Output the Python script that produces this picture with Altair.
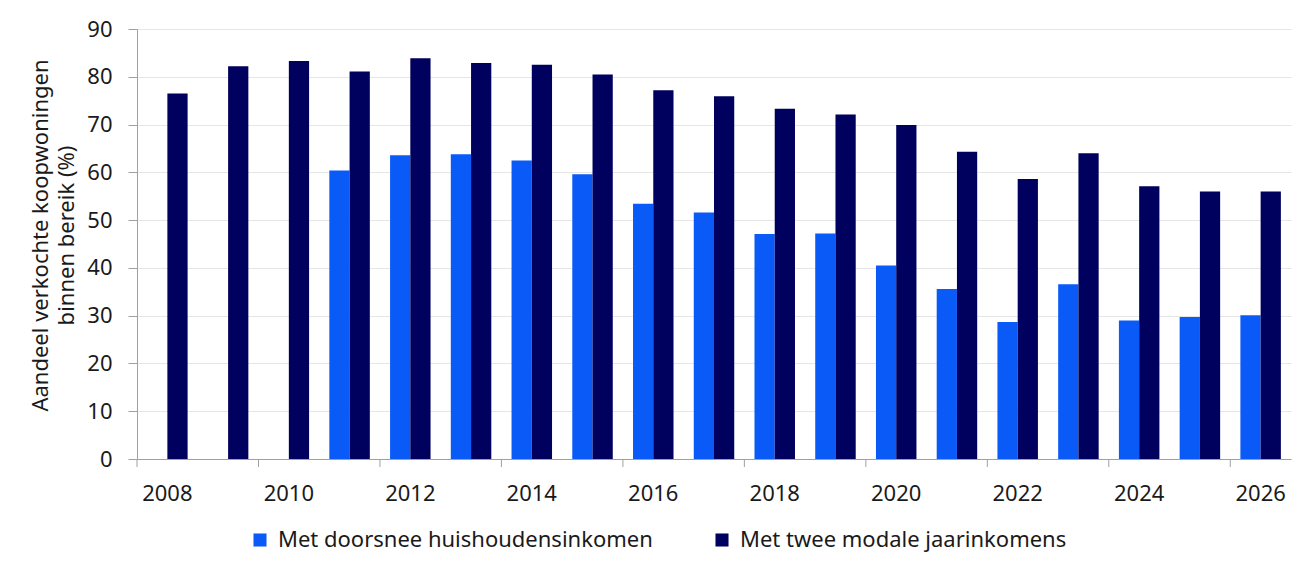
import pandas as pd
import altair as alt

years = list(range(2008, 2027))
series_light = "Met doorsnee huishoudensinkomen"
series_dark = "Met twee modale jaarinkomens"

# light series starts in 2011
light_years = list(range(2011, 2027))
light_values = [60.4, 63.6, 63.8, 62.5, 59.6, 53.4, 51.6, 47.1, 47.2,
                40.5, 35.6, 28.7, 36.6, 29.0, 29.7, 30.1]
dark_values = [76.5, 82.2, 83.3, 81.1, 83.9, 82.9, 82.5, 80.5, 77.2, 75.9,
               73.3, 72.1, 69.9, 64.3, 58.6, 64.0, 57.1, 56.0, 56.0]

y_ticks = [0, 10, 20, 30, 40, 50, 60, 70, 80, 90]
tick_years = [y for y in years if y % 2 == 0]

rows = [{"year": y, "serie": series_light, "value": v} for y, v in zip(light_years, light_values)]
rows += [{"year": y, "serie": series_dark, "value": v} for y, v in zip(years, dark_values)]
df = pd.DataFrame(rows)
ticks_df = pd.DataFrame({"year": tick_years})

FONT = "Noto Sans"
W, H = 1154, 430

x_scale = alt.Scale(domain=years, paddingInner=0, paddingOuter=0)

bars = (
    alt.Chart(df)
    .mark_bar()
    .encode(
        x=alt.X(
            "year:O",
            scale=x_scale,
            axis=alt.Axis(
                title=None,
                labelAngle=0,
                labelExpr="datum.value % 2 == 0 ? datum.label : ''",
                ticks=False,
                labelFontSize=22,
                labelPadding=24,
                labelColor="#1a1a1a",
                domainColor="#a0a0a0",
                labelFont=FONT,
            ),
        ),
        xOffset=alt.XOffset(
            "serie:N",
            scale=alt.Scale(domain=[series_light, series_dark], paddingInner=0, paddingOuter=0.5),
        ),
        y=alt.Y(
            "value:Q",
            scale=alt.Scale(domain=[0, 90], nice=False),
            axis=alt.Axis(
                values=y_ticks,
                title=["Aandeel verkochte koopwoningen", "binnen bereik (%)"],
                titleFontSize=22,
                titleFontWeight="normal",
                titleColor="#1a1a1a",
                titleFont=FONT,
                titleX=-85,
                titleY=206,
                titleAngle=-90,
                titleAlign="center",
                titleBaseline="bottom",
                titleLineHeight=26,
                labelFontSize=22,
                labelColor="#1a1a1a",
                labelFont=FONT,
                labelPadding=16,
                tickSize=9,
                tickColor="#a0a0a0",
                domainColor="#a0a0a0",
                gridColor="#e6e6e6",
            ),
        ),
        color=alt.Color(
            "serie:N",
            scale=alt.Scale(domain=[series_light, series_dark], range=["#0a5af8", "#00005e"]),
            legend=alt.Legend(
                title=None,
                orient="none",
                direction="horizontal",
                legendX=112,
                legendY=500,
                symbolType="square",
                symbolSize=170,
                symbolStrokeWidth=0,
                labelFontSize=22,
                labelFont=FONT,
                labelColor="#1a1a1a",
                labelOffset=7,
                labelLimit=600,
                columnPadding=58,
            ),
        ),
    )
)

x_ticks = (
    alt.Chart(ticks_df)
    .mark_rule(color="#a0a0a0", strokeWidth=1)
    .encode(
        x=alt.X("year:O", bandPosition=0, scale=x_scale),
        y=alt.value(H),
        y2=alt.value(H + 8),
    )
)

chart = (
    alt.layer(bars, x_ticks)
    .properties(
        width=W,
        height=H,
        autosize=alt.AutoSizeParams(type="none"),
        padding={"left": 129, "top": 21, "right": 1, "bottom": 103},
    )
    .configure_view(stroke=None)
    .configure_axis(labelFont=FONT, titleFont=FONT)
)

chart.save("out.html", embed_options={"renderer": "svg", "actions": False})
